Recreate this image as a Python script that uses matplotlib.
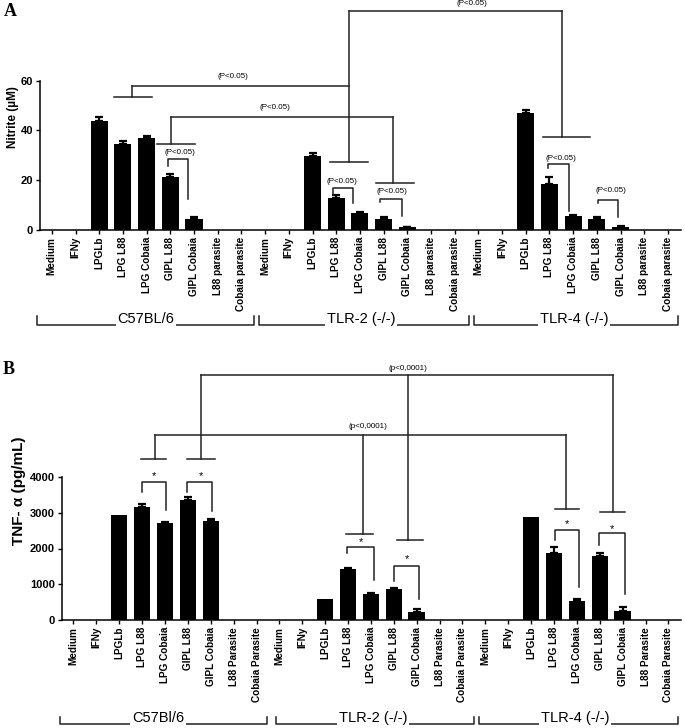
import numpy as np
import matplotlib
matplotlib.use("Agg")
import matplotlib.pyplot as plt

plt.rcParams['font.family'] = ['Liberation Sans', 'DejaVu Sans']

# ---------------- data ----------------
groups_A = ["C57BL/6", "TLR-2 (-/-)", "TLR-4 (-/-)"]
groups_B = ["C57Bl/6", "TLR-2 (-/-)", "TLR-4 (-/-)"]
stimuli_A = ["Medium", "IFNy", "LPGLb", "LPG L88", "LPG Cobaia", "GIPL L88",
             "GIPL Cobaia", "L88 parasite", "Cobaia parasite"]
stimuli_B = ["Medium", "IFNy", "LPGLb", "LPG L88", "LPG Cobaia", "GIPL L88",
             "GIPL Cobaia", "L88 Parasite", "Cobaia Parasite"]

# Nitrite (uM)
nitrite_c57 = [0, 0, 44.0, 34.5, 36.8, 21.2, 4.5, 0, 0]
nitrite_c57_err = [0, 0, 1.3, 1.3, 0.8, 1.2, 0.6, 0, 0]
nitrite_tlr2 = [0, 0, 29.9, 13.0, 6.8, 4.5, 1.2, 0, 0]
nitrite_tlr2_err = [0, 0, 0.9, 0.9, 0.6, 0.6, 0.2, 0, 0]
nitrite_tlr4 = [0, 0, 47.2, 18.3, 5.7, 4.3, 1.3, 0, 0]
nitrite_tlr4_err = [0, 0, 1.2, 2.9, 0.3, 0.8, 0.4, 0, 0]

# TNF-alpha (pg/mL)
tnf_c57 = [0, 0, 2950, 3170, 2700, 3360, 2780, 0, 0]
tnf_c57_err = [0, 0, 0, 80, 30, 90, 50, 0, 0]
tnf_tlr2 = [0, 0, 590, 1430, 720, 860, 230, 0, 0]
tnf_tlr2_err = [0, 0, 0, 20, 25, 30, 90, 0, 0]
tnf_tlr4 = [0, 0, 2870, 1880, 530, 1800, 260, 0, 0]
tnf_tlr4_err = [0, 0, 0, 150, 70, 70, 90, 0, 0]

# significance annotations: (x_left, x_right, y_top, y_left_end, y_right_end, text_x, text_y)
pairs_A = [(4.89, 5.74, 28.5, 25.7, 12.5, 5.4, 31.1),
           (11.86, 12.70, 16.9, 14.1, 10.9, 12.24, 19.5),
           (13.84, 14.77, 12.4, 11.1, 5.6, 14.35, 15.3),
           (20.93, 21.81, 26.4, 25.0, 7.8, 21.5, 28.7),
           (23.04, 23.88, 12.1, 10.9, 5.2, 23.6, 15.7)]
# connectors: (y_line, [(x_leg, y_end, short_left, short_right), ...], text_x, text_y)
links_A = [(88.0, [(12.53, 27.3, 11.73, 13.33), (21.52, 37.4, 20.72, 22.7)], 17.72, 91.0),
           (57.9, [(3.38, 53.5, 2.62, 4.22), (12.53, 57.9, 12.53, 12.53)], 7.64, 61.5),
           (45.4, [(5.02, 34.6, 4.43, 6.03), (14.39, 18.9, 13.67, 15.27)], 9.4, 49.4)]
pairs_B = [(3.0, 4.04, 3860, 3580, 3077, 3.52, 4028),
           (4.96, 6.04, 3860, 3580, 3049, 5.57, 4028),
           (11.96, 13.13, 2042, 1874, 1119, 12.57, 2182),
           (14.0, 15.09, 1510, 1091, 587, 14.57, 1706),
           (21.04, 22.09, 2517, 2238, 923, 21.57, 2685),
           (22.96, 24.09, 2434, 2098, 727, 23.52, 2545)]
links_B = [(6853, [(5.57, 4503, 4.96, 6.17), (14.61, 2238, 14.13, 15.26),
                   (23.57, 3021, 23.0, 24.09)], 14.6, 7040),
           (5175, [(3.57, 4503, 2.96, 4.04), (12.65, 2406, 11.91, 13.09),
                   (21.52, 3105, 21.04, 22.09)], 12.87, 5400)]

W, H = 685, 728
fig = plt.figure(figsize=(W / 100, H / 100), dpi=100)


def px_axes(l, r, b, t):
    return fig.add_axes([l / W, 1 - b / H, (r - l) / W, (b - t) / H])


def panel(ax, vals, errs, stims, ylim, yticks, ylabel, ylabsize, ylabpad):
    labels = stims * 3
    x = np.arange(len(labels))
    v = np.concatenate(vals)
    e = np.concatenate(errs)
    ax.bar(x, v, width=0.72, color='black', zorder=2)
    m = e > 0
    ax.errorbar(x[m], v[m], yerr=[np.zeros(m.sum()), e[m]], fmt='none',
                ecolor='black', elinewidth=1.6, capsize=3.2, capthick=1.6, zorder=3)
    ax.set_xlim(-0.5, len(labels) - 0.45)
    ax.set_ylim(*ylim)
    ax.set_xticks(x)
    ax.set_xticklabels(labels, rotation=90, fontsize=7.2, fontweight='bold')
    ax.set_yticks(yticks)
    ax.set_yticklabels([str(t) for t in yticks], fontsize=8, fontweight='bold')
    ax.spines['top'].set_visible(False)
    ax.spines['right'].set_visible(False)
    ax.spines['left'].set_bounds(yticks[0], yticks[-1])
    for s in ('left', 'bottom'):
        ax.spines[s].set_linewidth(1.1)
    ax.tick_params(axis='both', direction='out', length=3, width=1.0, pad=2)
    ax.set_ylabel(ylabel, fontsize=ylabsize, fontweight='bold', labelpad=ylabpad)
    ax.patch.set_alpha(0)


def draw_pairs(ax, pairs, text, fs):
    for x1, x2, y, yl, yr, tx, ty in pairs:
        ax.plot([x1, x1, x2, x2], [yl, y, y, yr], color='#222222', lw=1.1,
                clip_on=False, zorder=4)
        ax.text(tx, ty, text, ha='center', va='center', fontsize=fs, clip_on=False)


def draw_links(ax, links, text):
    for y, legs, tx, ty in links:
        xs = [lg[0] for lg in legs]
        ax.plot([min(xs), max(xs)], [y, y], color='#222222', lw=1.1, clip_on=False)
        for xl, ye, sl, sr in legs:
            ax.plot([xl, xl], [y, ye], color='#222222', lw=1.1, clip_on=False)
            if sr > sl:
                ax.plot([sl, sr], [ye, ye], color='#222222', lw=1.1, clip_on=False)
        ax.text(tx, ty, text, ha='center', va='center', fontsize=5.8, clip_on=False)


# ---------- panel A ----------
axA = px_axes(40, 681, 230, 5)
panel(axA, [nitrite_c57, nitrite_tlr2, nitrite_tlr4],
      [nitrite_c57_err, nitrite_tlr2_err, nitrite_tlr4_err], stimuli_A,
      (0, (230 - 5) / 2.488), [0, 20, 40, 60], "Nitrite (\u00b5M)", 8.5, 1)
draw_pairs(axA, pairs_A, "(P<0.05)", 5.8)
draw_links(axA, links_A, "(P<0.05)")

# ---------- panel B ----------
axB = px_axes(62, 681, 620, 362)
panel(axB, [tnf_c57, tnf_tlr2, tnf_tlr4],
      [tnf_c57_err, tnf_tlr2_err, tnf_tlr4_err], stimuli_B,
      (0, (620 - 362) / 0.03575), [0, 1000, 2000, 3000, 4000],
      "TNF- \u03b1 (pg/mL)", 11, 3)
draw_pairs(axB, pairs_B, "*", 8)
draw_links(axB, links_B, "(p<0,0001)")

# ---------- overlay: panel letters and group brackets ----------
ov = fig.add_axes([0, 0, 1, 1], zorder=10)
ov.set_xlim(0, W)
ov.set_ylim(H, 0)
ov.axis('off')
ov.patch.set_alpha(0)
ov.text(4, 11, "A", fontsize=13, fontweight='bold', family='Liberation Serif',
        ha='left', va='center')
ov.text(3, 370, "B", fontsize=13, fontweight='bold', family='Liberation Serif',
        ha='left', va='center')


def group_brackets(spans, names, base, tick):
    for (l, r, c), name in zip(spans, names):
        ov.plot([l, l, r, r], [base - tick, base, base, base - tick],
                color='#222222', lw=1.1)
        ov.text(c, base + 1, name, fontsize=10.5, ha='center', va='bottom',
                bbox=dict(facecolor='white', edgecolor='none', pad=1.0))


group_brackets([(37, 254, 146), (259, 469, 361), (474, 678, 574)], groups_A, 325, 9)
group_brackets([(60, 267, 158), (276, 474, 373), (479, 678, 575)], groups_B, 724, 7)

fig.savefig("out.png", dpi=100)
